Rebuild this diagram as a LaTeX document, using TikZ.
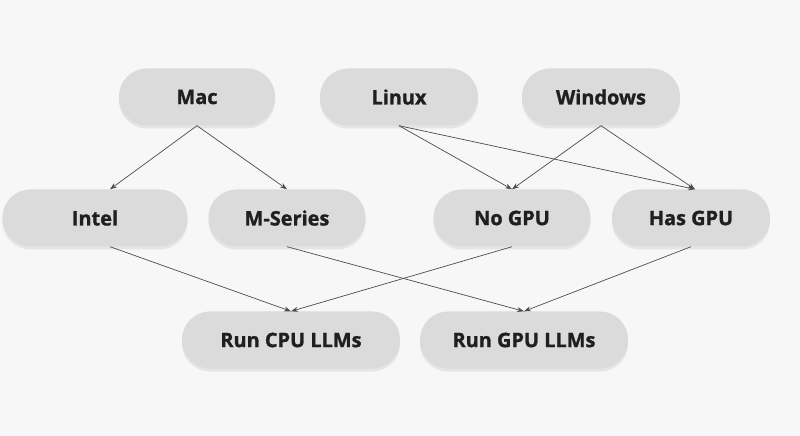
\documentclass[tikz,border=0pt]{standalone}
\usepackage{fontspec}
\setmainfont{Open Sans}[FakeBold=1.2]
\usetikzlibrary{shadows,arrows.meta}
\begin{document}
\begin{tikzpicture}[x=1bp,y=-1bp,
  box/.style={rounded corners=28bp,fill=black!14,draw=none,minimum height=57bp,
    font=\fontsize{20}{23}\selectfont\bfseries\color{black!88},
    drop shadow={shadow xshift=0bp,shadow yshift=-3bp,opacity=0.15}},
  ar/.style={draw=black!70,line width=0.7bp,-{Stealth[length=7bp,width=5bp]}}]
\useasboundingbox[fill=black!3] (0,0) rectangle (800,436);
\node[box,minimum width=156bp] (mac) at (197,97) {Mac};
\node[box,minimum width=158bp] (linux) at (399,97) {Linux};
\node[box,minimum width=158bp] (win) at (601,97) {Windows};
\node[box,minimum width=185bp] (intel) at (95,218) {Intel};
\node[box,minimum width=157bp] (ms) at (287,218) {M-Series};
\node[box,minimum width=157bp] (nogpu) at (512,218) {No GPU};
\node[box,minimum width=158bp] (hasgpu) at (691,218) {Has GPU};
\node[box,minimum width=218bp] (cpu) at (291,340) {Run CPU LLMs};
\node[box,minimum width=208bp] (gpu) at (524,340) {Run GPU LLMs};
\draw[ar] (mac.south) -- ([xshift=15bp]intel.north);
\draw[ar] (mac.south) -- (ms.north);
\draw[ar] (linux.south) -- (nogpu.north);
\draw[ar] (linux.south) -- ([xshift=4bp]hasgpu.north);
\draw[ar] (win.south) -- (nogpu.north);
\draw[ar] (win.south) -- ([xshift=4bp]hasgpu.north);
\draw[ar] ([xshift=15bp]intel.south) -- (cpu.north);
\draw[ar] (ms.south) -- (gpu.north);
\draw[ar] (nogpu.south) -- (cpu.north);
\draw[ar] (hasgpu.south) -- (gpu.north);
\end{tikzpicture}
\end{document}
